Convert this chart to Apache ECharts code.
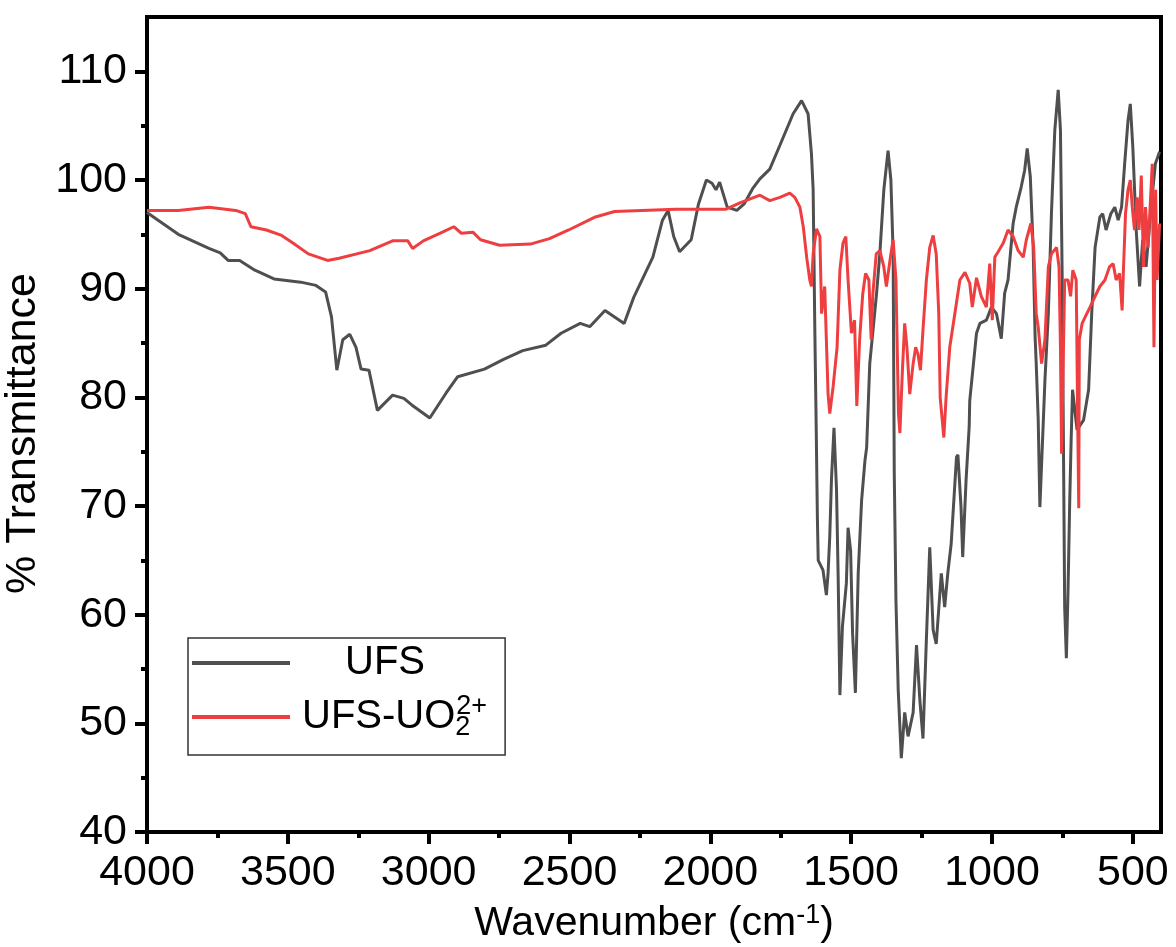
<!DOCTYPE html>
<html>
<head>
<meta charset="utf-8">
<title>FTIR UFS</title>
<script src="https://cdn.jsdelivr.net/npm/echarts@6/dist/echarts.min.js"></script>
<style>
  html, body { margin: 0; padding: 0; background: #fff; }
  #chart { width: 1176px; height: 947px; }
</style>
</head>
<body>
<div id="chart"></div>
<script>
// wavenumber (cm-1) / % transmittance
var ufsX = [4000, 3889, 3780, 3740, 3712, 3671, 3617, 3549, 3454, 3400, 3366, 3345, 3326, 3305, 3280, 3258, 3240, 3212, 3182, 3128,
  3088, 3060, 2996, 2938, 2897, 2802, 2734, 2666, 2584, 2530, 2462, 2428, 2374, 2306, 2272, 2204, 2170, 2150, 2130, 2109,
  2068, 2042, 2014, 1994, 1980, 1967, 1940, 1906, 1880, 1850, 1824, 1789, 1753, 1706, 1676, 1653, 1641, 1635, 1629, 1624,
  1620, 1617, 1600, 1588, 1582, 1576, 1570, 1561, 1552, 1546, 1540, 1531, 1517, 1511, 1502, 1495, 1485, 1475, 1463, 1451,
  1445, 1434, 1410, 1398, 1384, 1369, 1359, 1351, 1347, 1341, 1333, 1322, 1310, 1298, 1280, 1268, 1256, 1245, 1233, 1221,
  1209, 1198, 1180, 1168, 1157, 1145, 1126, 1121, 1110, 1104, 1092, 1081, 1079, 1055, 1043, 1020, 1002, 984, 967, 955,
  943, 925, 914, 896, 884, 875, 864, 854, 847, 843, 836, 830, 812, 800, 789, 777, 765, 757, 751, 749,
  746, 742, 736, 730, 724, 719, 714, 708, 698, 675, 657, 646, 634, 617, 607, 595, 578, 564, 552, 540,
  529, 517, 509, 500, 488, 476, 465, 453, 435, 420, 405];
var ufsY = [97.0, 95.0, 93.7, 93.3, 92.6, 92.6, 91.7, 90.9, 90.6, 90.3, 89.7, 87.4, 82.5, 85.3, 85.8, 84.6, 82.6, 82.5, 78.8, 80.2,
  79.9, 79.3, 78.1, 80.4, 81.9, 82.6, 83.5, 84.3, 84.8, 85.9, 86.8, 86.5, 88.0, 86.8, 89.2, 92.9, 96.3, 97.2, 94.8, 93.4,
  94.5, 97.8, 100.0, 99.7, 99.1, 99.8, 97.5, 97.2, 97.8, 99.2, 100.1, 101.0, 103.2, 106.1, 107.3, 106.1, 102.4, 99.1, 86.2, 77.0,
  69.0, 65.0, 64.1, 61.8, 63.8, 67.2, 72.4, 77.2, 71.5, 63.2, 52.6, 58.9, 62.9, 68.0, 65.9, 58.3, 52.8, 63.8, 70.5, 74.2,
  75.4, 83.1, 89.5, 93.3, 99.1, 102.7, 100.0, 93.3, 73.0, 61.3, 53.1, 46.8, 51.0, 48.8, 51.0, 57.2, 52.1, 48.6, 57.7, 66.2,
  58.6, 57.3, 63.8, 60.7, 63.8, 66.5, 74.5, 74.7, 69.9, 65.3, 72.4, 77.3, 79.7, 85.9, 86.8, 87.1, 88.3, 87.7, 85.4, 89.6,
  90.8, 96.0, 97.5, 99.4, 100.9, 102.9, 100.3, 93.9, 85.6, 83.1, 78.0, 69.9, 81.6, 87.7, 96.9, 104.6, 108.3, 104.6, 91.4, 84.6,
  74.5, 60.7, 56.0, 62.3, 70.5, 76.1, 80.7, 80.7, 77.0, 77.9, 80.7, 87.7, 93.8, 96.6, 96.9, 95.4, 96.9, 97.5, 96.3, 97.5,
  101.5, 105.5, 107.0, 103.0, 95.4, 90.2, 94.5, 92.0, 97.5, 101.5, 102.6];

var uoX = [4000, 3889, 3780, 3685, 3651, 3631, 3576, 3522, 3482, 3427, 3359, 3318, 3209, 3128, 3074, 3057, 3019, 2951, 2911, 2884,
  2843, 2816, 2748, 2639, 2571, 2503, 2408, 2340, 2123, 1946, 1895, 1824, 1789, 1753, 1718, 1700, 1682, 1670, 1658, 1647,
  1641, 1635, 1623, 1611, 1605, 1594, 1582, 1576, 1564, 1550, 1540, 1529, 1519, 1511, 1499, 1488, 1480, 1470, 1459, 1449,
  1437, 1429, 1423, 1411, 1398, 1384, 1375, 1359, 1351, 1341, 1332, 1327, 1318, 1310, 1302, 1292, 1280, 1271, 1263, 1254,
  1245, 1233, 1221, 1209, 1198, 1189, 1184, 1171, 1163, 1150, 1132, 1114, 1096, 1079, 1070, 1055, 1038, 1020, 1008, 999,
  990, 978, 960, 943, 925, 907, 889, 878, 862, 852, 843, 836, 824, 812, 800, 789, 771, 762, 757, 753,
  742, 730, 721, 713, 701, 696, 692, 690, 680, 669, 652, 634, 617, 599, 583, 570, 559, 547, 538, 533,
  526, 517, 509, 502, 494, 485, 478, 470, 462, 455, 446, 438, 431, 425, 419, 414, 405];
var uoY = [97.2, 97.2, 97.5, 97.2, 96.9, 95.7, 95.4, 94.9, 94.2, 93.2, 92.6, 92.8, 93.5, 94.4, 94.4, 93.7, 94.4, 95.2, 95.7, 95.1,
  95.2, 94.5, 94.0, 94.1, 94.6, 95.4, 96.6, 97.1, 97.3, 97.3, 97.9, 98.6, 98.1, 98.4, 98.8, 98.4, 97.5, 95.7, 92.9, 90.8,
  90.2, 93.2, 95.5, 94.8, 87.7, 90.2, 80.3, 78.5, 81.0, 84.6, 91.7, 94.2, 94.8, 90.8, 85.9, 87.1, 79.2, 85.3, 89.5, 91.4,
  90.8, 85.3, 89.5, 93.2, 93.5, 92.0, 90.2, 93.2, 94.5, 90.8, 78.5, 76.7, 82.5, 86.8, 84.6, 80.3, 83.1, 84.6, 84.0, 82.5,
  86.2, 90.8, 93.8, 94.9, 93.2, 87.7, 80.0, 76.3, 80.0, 84.6, 87.7, 90.8, 91.5, 90.5, 88.3, 91.0, 89.3, 88.3, 92.3, 87.1,
  92.9, 93.4, 94.2, 95.4, 94.8, 93.5, 92.9, 94.5, 96.0, 93.8, 87.7, 86.5, 83.1, 85.3, 92.0, 93.2, 93.8, 92.0, 84.6, 74.8,
  90.8, 90.8, 89.3, 91.7, 90.8, 78.5, 69.8, 85.3, 86.8, 87.4, 88.3, 89.3, 90.2, 90.8, 92.0, 92.3, 90.8, 91.4, 88.0, 92.0,
  96.9, 99.1, 100.0, 97.5, 95.4, 98.4, 95.4, 100.4, 92.0, 97.5, 93.8, 97.8, 101.5, 84.6, 99.1, 90.8, 96.0];

var xTicks = [500, 1000, 1500, 2000, 2500, 3000, 3500, 4000];
var xMinor = [750, 1250, 1750, 2250, 2750, 3250, 3750];
var yTicks = [40, 50, 60, 70, 80, 90, 100, 110];
var yMinor = [45, 55, 65, 75, 85, 95, 105];

function zip(a, b) {
    var out = [];
    for (var i = 0; i < a.length; i++) {
        out.push([a[i], b[i]]);
    }
    return out;
}

var font = 'Liberation Sans, Arial, sans-serif';
var chart = echarts.init(document.getElementById('chart'));

var option = {
    animation: false,
    backgroundColor: '#fff',
    textStyle: { fontFamily: font },
    grid: {
        left: 147, right: 15, top: 17, bottom: 115,
        show: true, borderColor: '#000', borderWidth: 4,
        outerBoundsMode: 'none'
    },
    legend: {
        orient: 'vertical',
        left: 188, top: 638,
        icon: 'rect',
        itemWidth: 98, itemHeight: 4, itemGap: 10,
        padding: [5, 18, 14, 4],
        borderColor: '#333', borderWidth: 1.5,
        data: ['UFS', 'UFS-UO2'],
        formatter: function (name) {
            if (name === 'UFS') {
                return '{sp1| }{t|UFS}';
            }
            return '{sp2| }{t|UFS-UO}{sb|2}{sp|2+}';
        },
        textStyle: {
            color: '#000', fontSize: 40, fontFamily: font,
            rich: {
                sp1: { width: 50, lineHeight: 48 },
                sp2: { width: 7, lineHeight: 48 },
                t: { fontSize: 40, lineHeight: 48, color: '#000', fontFamily: font },
                sb: { fontSize: 27, lineHeight: 27, width: 1, verticalAlign: 'bottom', color: '#000', fontFamily: font },
                sp: { fontSize: 27, lineHeight: 27, verticalAlign: 'top', color: '#000', fontFamily: font }
            }
        }
    },
    xAxis: [{
        type: 'value',
        inverse: true,
        min: 400, max: 4000,
        position: 'bottom',
        axisLine: { show: true, lineStyle: { color: '#000', width: 4 } },
        axisTick: { show: true, length: 12, customValues: xTicks, lineStyle: { color: '#000', width: 4 } },
        axisLabel: {
            customValues: xTicks, fontSize: 43, color: '#000', margin: 20, fontFamily: font,
            formatter: function (v) { return String(v); }
        },
        splitLine: { show: false },
        name: '{a|Wavenumber (cm}{s|-1}{a|)}',
        nameLocation: 'middle',
        nameGap: 70,
        nameTextStyle: {
            rich: {
                a: { fontSize: 41, lineHeight: 44, color: '#000', fontFamily: font },
                s: { fontSize: 27, lineHeight: 27, verticalAlign: 'top', color: '#000', fontFamily: font }
            }
        }
    }, {
        // minor ticks only
        type: 'value',
        inverse: true,
        min: 400, max: 4000,
        position: 'bottom',
        axisLine: { show: false },
        axisTick: { show: true, length: 6, customValues: xMinor, lineStyle: { color: '#000', width: 4 } },
        axisLabel: { show: false },
        splitLine: { show: false }
    }],
    yAxis: [{
        type: 'value',
        min: 40, max: 115,
        position: 'left',
        axisLine: { show: true, lineStyle: { color: '#000', width: 4 } },
        axisTick: { show: true, length: 12, customValues: yTicks, lineStyle: { color: '#000', width: 4 } },
        axisLabel: { customValues: yTicks, fontSize: 43, color: '#000', margin: 20, fontFamily: font },
        splitLine: { show: false },
        name: '% Transmittance',
        nameLocation: 'middle',
        nameGap: 86,
        nameTextStyle: { fontSize: 43, color: '#000', fontFamily: font, padding: [0, 18, 0, 0] }
    }, {
        type: 'value',
        min: 40, max: 115,
        position: 'left',
        axisLine: { show: false },
        axisTick: { show: true, length: 6, customValues: yMinor, lineStyle: { color: '#000', width: 4 } },
        axisLabel: { show: false },
        splitLine: { show: false }
    }],
    series: [{
        name: 'UFS',
        type: 'line',
        data: zip(ufsX, ufsY),
        showSymbol: false,
        color: '#4f4f4f',
        lineStyle: { color: '#4f4f4f', width: 3 },
        z: 2
    }, {
        name: 'UFS-UO2',
        type: 'line',
        data: zip(uoX, uoY),
        showSymbol: false,
        color: '#ef3e40',
        lineStyle: { color: '#ef3e40', width: 3 },
        z: 3
    }]
};

chart.setOption(option);
</script>
</body>
</html>
